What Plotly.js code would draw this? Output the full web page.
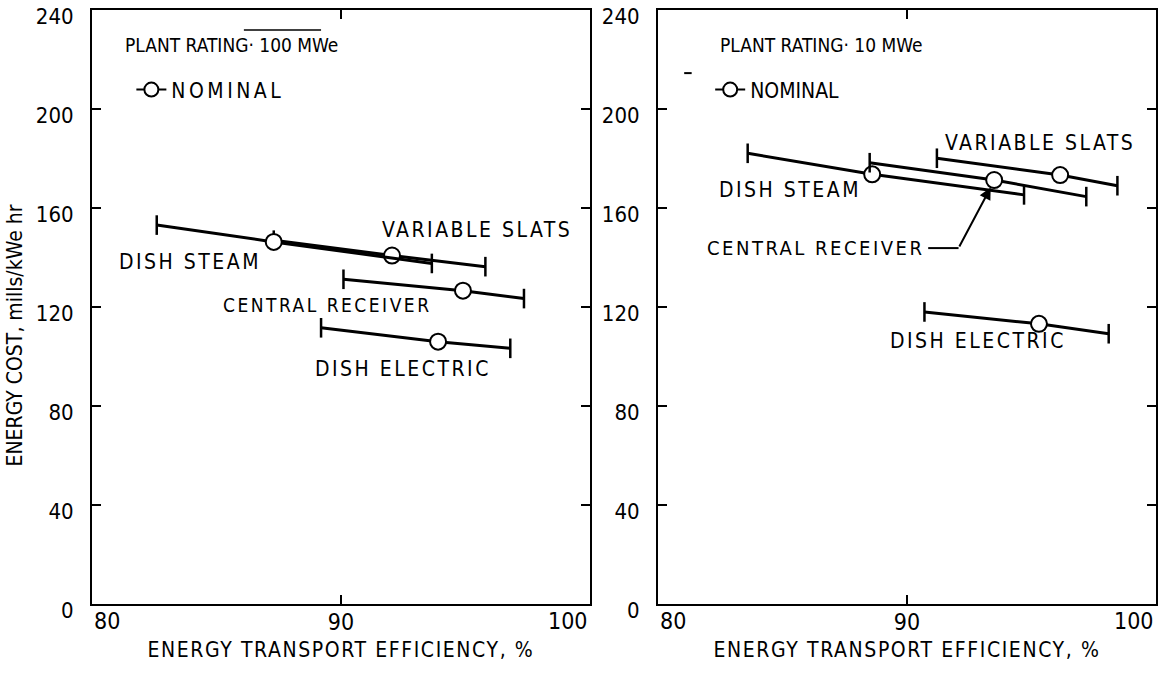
<!DOCTYPE html>
<html>
<head>
<meta charset="utf-8">
<script src="https://cdn.plot.ly/plotly-3.0.1.min.js"></script>
<style>
  html, body { margin: 0; padding: 0; background: #fff; }
  #chart { width: 1161px; height: 673px; }
  text.legendtext { letter-spacing: 3.5px; }
  text.xtitle, text.x2title { letter-spacing: 1.6px; }
</style>
</head>
<body>
<div id="chart"></div>
<script>
// ---- data ----
const seriesNames = ['VARIABLE SLATS', 'DISH STEAM', 'CENTRAL RECEIVER', 'DISH ELECTRIC'];

// Plant rating 100 MWe
const eff100Low  = [87.3, 82.6, 90.1, 89.2];
const eff100Nom  = [92.05, 87.3, 94.9, 93.9];
const eff100High = [95.8, 93.65, 97.35, 96.8];
const cost100Low  = [147.0, 153.1, 131.2, 111.6];
const cost100Nom  = [140.8, 146.3, 126.6, 106.0];
const cost100High = [136.3, 137.6, 123.4, 103.3];

// Plant rating 10 MWe
const eff10Low  = [91.2, 83.6, 88.5, 90.7];
const eff10Nom  = [96.15, 88.6, 93.5, 95.3];
const eff10High = [98.45, 94.7, 97.2, 98.1];
const cost10Low  = [180.1, 182.1, 178.3, 118.0];
const cost10Nom  = [173.3, 173.6, 171.3, 113.2];
const cost10High = [169.0, 165.3, 164.6, 109.2];

const xTicks = [80, 90, 100];
const xTickText = ['80', '90', '100'];
const yTicks = [0, 40, 80, 120, 160, 200, 240];
const panelTitles = ['PLANT RATING\u00b7 100 MWe', 'PLANT RATING\u00b7 10 MWe'];
const nominalLabel = 'NOMINAL';
const xTitle = 'ENERGY TRANSPORT EFFICIENCY, %';
const yTitle = 'ENERGY COST, mills/kWe hr';

// ---- build traces ----
const FONT = '"Liberation Sans Narrow", "DejaVu Sans Condensed", "Liberation Sans", sans-serif';
const traces = [];
function addPanel(lo, nom, hi, clo, cnom, chi, xa, ya, legendId) {
  for (let i = 0; i < seriesNames.length; i++) {
    traces.push({
      type: 'scatter', mode: 'lines', xaxis: xa, yaxis: ya, showlegend: false,
      name: seriesNames[i],
      x: [lo[i], nom[i], hi[i]], y: [clo[i], cnom[i], chi[i]],
      line: { color: '#000', width: 3 }, hoverinfo: 'skip'
    });
    traces.push({
      type: 'scatter', mode: 'markers', xaxis: xa, yaxis: ya, showlegend: false,
      x: [lo[i], hi[i]], y: [clo[i], chi[i]],
      marker: { symbol: 'line-ns', size: 14, color: '#000', line: { color: '#000', width: 2.5 } },
      hoverinfo: 'skip'
    });
    traces.push({
      type: 'scatter', mode: 'markers', xaxis: xa, yaxis: ya, showlegend: false,
      x: [nom[i]], y: [cnom[i]],
      marker: { symbol: 'circle', size: 16, color: '#fff', line: { color: '#000', width: 2 } },
      hoverinfo: 'skip'
    });
  }
  // legend entry
  traces.push({
    type: 'scatter', mode: 'lines+markers', xaxis: xa, yaxis: ya,
    x: [null], y: [null], name: nominalLabel, legend: legendId, showlegend: true,
    line: { color: '#000', width: 2 },
    marker: { symbol: 'circle', size: 14, color: '#fff', line: { color: '#000', width: 2 } }
  });
}
addPanel(eff100Low, eff100Nom, eff100High, cost100Low, cost100Nom, cost100High, 'x', 'y', 'legend');
addPanel(eff10Low, eff10Nom, eff10High, cost10Low, cost10Nom, cost10High, 'x2', 'y2', 'legend2');

// ---- axes ----
const tickFont = { family: FONT, size: 23, color: '#000' };
// the corner labels (80, 100) sit inside the frame on the original; they are placed as
// annotations anchored at their tick values, the middle one is the axis' own label
function xAxis(domain, anchor) {
  return {
    domain: domain, anchor: anchor, range: [80, 100], tickvals: xTicks,
    ticktext: ['', xTickText[1], ''],
    ticks: 'inside', ticklen: 9, tickwidth: 2, tickcolor: '#000',
    showline: true, linecolor: '#000', linewidth: 2, mirror: 'ticks',
    showgrid: false, zeroline: false, ticklabelstandoff: -4,
    tickfont: tickFont,
    title: { text: xTitle, standoff: 9, font: { family: FONT, size: 21, color: '#000' } }
  };
}
function yAxis(anchor) {
  return {
    anchor: anchor, range: [0, 240], tickvals: yTicks, ticktext: yTicks.map(String),
    ticks: 'inside', ticklen: 9, tickwidth: 2, tickcolor: '#000',
    showline: true, linecolor: '#000', linewidth: 2, mirror: 'ticks',
    showgrid: false, zeroline: false, ticklabelstandoff: 12, ticklabelshift: 6,
    ticklabeloverflow: 'allow',
    tickfont: { family: FONT, size: 22, color: '#000' }
  };
}
function endTickLabels(xr) {
  return [
    { text: xTickText[0], x: xTicks[0], xref: xr, y: 0, yref: 'paper', xanchor: 'left',
      yanchor: 'top', yshift: -2, showarrow: false, font: tickFont },
    { text: xTickText[2], x: xTicks[2], xref: xr, y: 0, yref: 'paper', xanchor: 'right',
      yanchor: 'top', yshift: -2, showarrow: false, font: tickFont }
  ];
}

function spaced(t, px) { return '<span style="letter-spacing:' + px + 'px">' + t + '</span>'; }
function lab(text, x, y, xr, yr, anchor, size, sp) {
  return { text: spaced(text, sp === undefined ? 2.5 : sp), x: x, y: y, xref: xr, yref: yr,
           showarrow: false, xanchor: anchor || 'center', yanchor: 'middle',
           font: { family: FONT, size: size || 21, color: '#000' } };
}
function paperLab(text, x, y, size) {
  return { text: text, x: x, y: y, xref: 'paper', yref: 'paper', showarrow: false,
           xanchor: 'left', yanchor: 'middle',
           font: { family: FONT, size: size, color: '#000' } };
}

const legendBase = {
  yanchor: 'top', xanchor: 'left', bgcolor: 'rgba(0,0,0,0)', itemwidth: 30,
  font: { family: FONT, size: 21, color: '#000' }
};

const layout = {
  width: 1161, height: 673,
  margin: { l: 92, r: 5, t: 10, b: 69 },
  paper_bgcolor: '#fff', plot_bgcolor: '#fff',
  showlegend: true,
  font: { family: FONT, color: '#000' },
  xaxis: xAxis([0, 0.468], 'y'),
  yaxis: yAxis('x'),
  xaxis2: xAxis([0.532, 1], 'y2'),
  yaxis2: yAxis('x2'),
  legend: Object.assign({}, legendBase, { x: 0.037, y: 0.9 }),
  legend2: Object.assign({}, legendBase, { x: 0.581, y: 0.9 }),
  annotations: [
    paperLab(panelTitles[0], 0.029, 0.941, 19),
    paperLab(panelTitles[1], 0.588, 0.941, 19),
    lab(seriesNames[0], 95.45, 151, 'x', 'y'),
    lab(seriesNames[1], 83.95, 138.2, 'x', 'y'),
    lab(seriesNames[2], 89.45, 120.8, 'x', 'y', 'center', 19),
    lab(seriesNames[3], 92.5, 95, 'x', 'y'),
    lab(seriesNames[0], 95.35, 186.3, 'x2', 'y2'),
    lab(seriesNames[1], 85.3, 167.3, 'x2', 'y2'),
    lab(seriesNames[2], 90.75, 143.8, 'x2', 'y2', 'right', 20),
    lab(seriesNames[3], 92.85, 106.3, 'x2', 'y2'),
    { text: yTitle, x: -0.0724, y: 0.452, xref: 'paper', yref: 'paper', showarrow: false,
      textangle: -90, xanchor: 'center', yanchor: 'middle',
      font: { family: FONT, size: 21, color: '#000' } },
    { text: '', x: 93.36, y: 168.3, xref: 'x2', yref: 'y2', showarrow: true,
      ax: 92.07, ay: 143.8, axref: 'x2', ayref: 'y2',
      arrowhead: 2, arrowsize: 1.2, arrowwidth: 2, arrowcolor: '#000', standoff: 0 }
  ].concat(endTickLabels('x'), endTickLabels('x2')),
  shapes: [
    { type: 'line', xref: 'x2', yref: 'y2', x0: 90.85, x1: 92.07, y0: 143.8, y1: 143.8,
      line: { color: '#000', width: 2 } },
    // stray marks visible on the scanned original
    { type: 'line', xref: 'x', yref: 'y', x0: 86.1, x1: 89.2, y0: 231.9, y1: 231.9,
      line: { color: '#000', width: 1.5 } },
    { type: 'line', xref: 'x2', yref: 'y2', x0: 81.05, x1: 81.35, y0: 214.5, y1: 214.5,
      line: { color: '#000', width: 2 } }
  ]
};

Plotly.newPlot('chart', traces, layout, { staticPlot: true, displayModeBar: false });
</script>
</body>
</html>
